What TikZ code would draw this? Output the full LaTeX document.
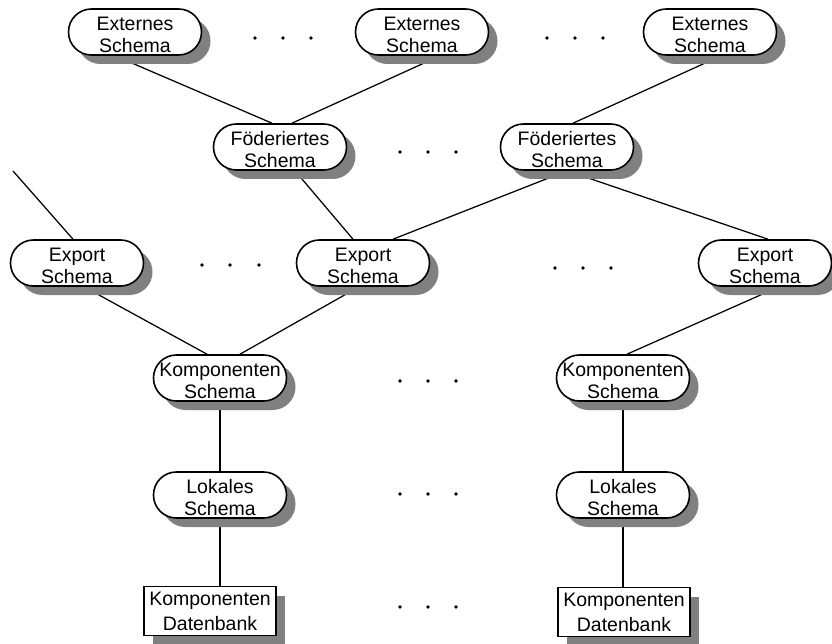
\documentclass[tikz,border=0pt]{standalone}
\usepackage{fontspec}
\setmainfont{Liberation Sans}
\usetikzlibrary{shadows,backgrounds}
\tikzset{
  shd/.style={drop shadow={shadow xshift=9pt,shadow yshift=-9pt,fill=black!50,opacity=1}},
  stad/.style={draw,line width=1.6pt,fill=white,shd,rounded corners=22.9pt,
    minimum width=133pt,minimum height=46pt,inner sep=0pt,align=center,
    font=\fontsize{19.5}{22.5}\selectfont},
  dbox/.style={draw,line width=1.6pt,fill=white,shd,
    minimum width=132pt,minimum height=49pt,inner sep=0pt,align=center,
    font=\fontsize{19.5}{25}\selectfont},
  conn/.style={line width=1.25pt,black},
  dotn/.style={circle,fill=black,inner sep=0pt,minimum size=3.6pt}
}
\newcommand{\ph}{\rule{0pt}{19.5pt}}
\newcommand{\phd}{\rule{0pt}{14pt}}
\begin{document}
\begin{tikzpicture}[x=1pt,y=-1pt]
\useasboundingbox (0,0) rectangle (832,644);
% nodes
\node[stad] (e1) at (135,32) {\ph Externes\\Schema};
\node[stad] (e2) at (422,32) {\ph Externes\\Schema};
\node[stad] (e3) at (710,32) {\ph Externes\\Schema};
\node[stad] (f1) at (280,147) {\ph Föderiertes\\Schema};
\node[stad] (f2) at (567,147) {\ph Föderiertes\\Schema};
\node[stad] (x1) at (77,263) {\ph Export\\Schema};
\node[stad] (x2) at (363,263) {\ph Export\\Schema};
\node[stad] (x3) at (765,263) {\ph Export\\Schema};
\node[stad] (k1) at (220,378) {\ph Komponenten\\Schema};
\node[stad] (k2) at (623,378) {\ph Komponenten\\Schema};
\node[stad] (l1) at (220,495) {\ph Lokales\\Schema};
\node[stad] (l2) at (623,495) {\ph Lokales\\Schema};
\node[dbox] (d1) at (210,611) {\phd Komponenten\\Datenbank};
\node[dbox] (d2) at (624,612) {\phd Komponenten\\Datenbank};
\coordinate (s0) at (13,171);
% dots
\foreach \n/\x/\y in {a1/255/38,a2/283/38,a3/311/38,a4/547/38,a5/575/38,a6/603/38,
  b1/400/152,b2/428/152,b3/456/152,
  c1/202/265,c2/230/265,c3/259/265,c4/555/268,c5/583/268,c6/611/268,
  g1/400/381,g2/428/381,g3/456/381,
  h1/400/494,h2/428/494,h3/456/494,
  i1/400/607,i2/428/607,i3/456/607}
  \node[dotn] (\n) at (\x,\y) {};
% connectors
\begin{scope}[on background layer]
\draw[conn] ([xshift=-20pt]e1.south) -- ([xshift=-8pt]f1.north);
\draw[conn] ([xshift=18pt]e2.south) -- ([xshift=12pt]f1.north);
\draw[conn] ([xshift=11pt]e3.south) -- ([xshift=6pt]f2.north);
\draw[conn] ([xshift=15pt]f1.south) -- ([xshift=-10pt]x2.north);
\draw[conn] (f2.south) -- ([xshift=30pt]x2.north);
\draw[conn] (f2.south) -- ([xshift=3pt]x3.north);
\draw[conn] (s0) -- ([xshift=-4pt]x1.north);
\draw[conn] ([xshift=7pt]x1.south) -- ([xshift=-13pt]k1.north);
\draw[conn] ([xshift=-4pt]x2.south) -- ([xshift=20pt]k1.north);
\draw[conn] ([xshift=14pt]x3.south) -- ([xshift=4pt]k2.north);
\draw[conn] (k1.south) -- (l1.north);
\draw[conn] (l1.south) -- (l1.south |- d1.north);
\draw[conn] (k2.south) -- (l2.north);
\draw[conn] (l2.south) -- (l2.south |- d2.north);
\end{scope}
\end{tikzpicture}
\end{document}
